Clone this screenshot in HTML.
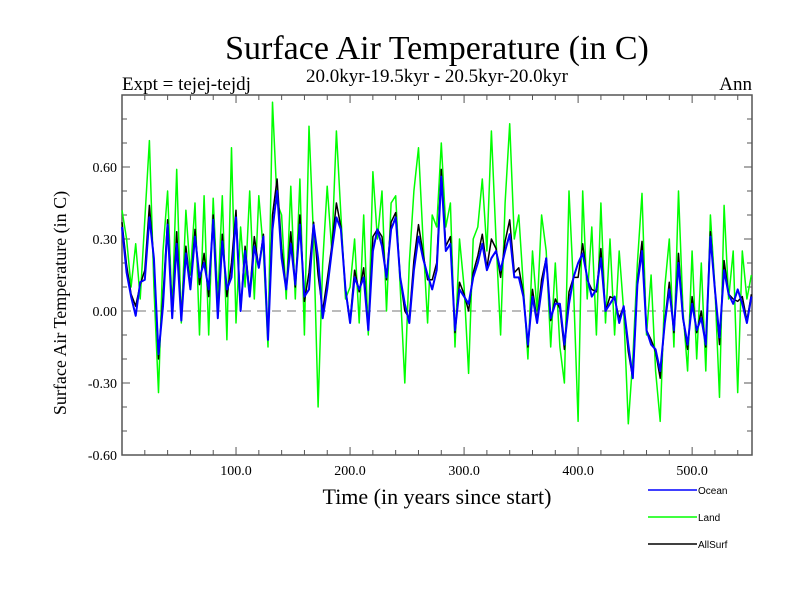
<!DOCTYPE html>
<html><head><meta charset="utf-8"><style>
body{margin:0;background:#fff;width:800px;height:600px;overflow:hidden}
svg{display:block}
.s{font-family:"Liberation Serif",serif;fill:#000}
.a{font-family:"Liberation Sans",sans-serif;fill:#000}
</style></head><body>
<svg id="c" width="800" height="600">
<text class="s" x="437" y="59" font-size="34" text-anchor="middle">Surface Air Temperature (in C)</text>
<text class="s" x="437" y="82" font-size="19" text-anchor="middle">20.0kyr-19.5kyr - 20.5kyr-20.0kyr</text>
<text class="s" x="122" y="90" font-size="19">Expt = tejej-tejdj</text>
<text class="s" x="752" y="90" font-size="19" text-anchor="end">Ann</text>
<text class="s" x="437" y="504" font-size="22" text-anchor="middle">Time (in years since start)</text>
<text class="s" x="0" y="0" font-size="18" text-anchor="middle" transform="translate(66,303) rotate(-90)">Surface Air Temperature (in C)</text>
<g id="plot"></g>
<g>
<line x1="648" y1="490" x2="697" y2="490" stroke="#0000ff" stroke-width="1.5"/>
<text class="a" x="698" y="494" font-size="10">Ocean</text>
<line x1="648" y1="517" x2="697" y2="517" stroke="#00ff00" stroke-width="1.5"/>
<text class="a" x="698" y="521" font-size="10">Land</text>
<line x1="648" y1="544" x2="697" y2="544" stroke="#000" stroke-width="1.5"/>
<text class="a" x="698" y="548" font-size="10">AllSurf</text>
</g>
</svg>
<script>
const yearStart = 0, yearStep = 4;
const ocean = [0.35,0.16,0.06,-0.02,0.12,0.13,0.39,0.22,-0.18,0.02,0.36,-0.03,0.28,-0.04,0.24,0.09,0.31,0.14,0.20,0.09,0.38,-0.03,0.29,0.09,0.14,0.39,0.00,0.25,0.06,0.27,0.18,0.31,-0.12,0.34,0.50,0.22,0.09,0.28,0.11,0.36,0.06,0.09,0.36,0.22,-0.03,0.09,0.25,0.39,0.34,0.09,-0.05,0.14,0.09,0.14,-0.08,0.25,0.34,0.27,0.14,0.34,0.39,0.14,0.03,-0.05,0.17,0.31,0.22,0.15,0.09,0.17,0.56,0.25,0.28,-0.08,0.09,0.06,0.03,0.14,0.20,0.28,0.17,0.22,0.25,0.17,0.25,0.32,0.14,0.14,0.06,-0.14,0.06,-0.05,0.09,0.22,-0.03,0.03,0.03,-0.14,0.03,0.14,0.20,0.24,0.14,0.06,0.09,0.22,0.00,0.03,0.06,-0.05,0.02,-0.14,-0.28,0.11,0.25,-0.08,-0.14,-0.16,-0.25,-0.05,0.09,-0.08,0.20,-0.03,-0.14,0.03,-0.08,-0.03,-0.14,0.31,0.09,-0.11,0.17,0.07,0.03,0.09,0.03,-0.05,0.06];
const land = [0.42,0.30,0.10,0.28,0.05,0.38,0.71,0.10,-0.34,0.25,0.50,0.00,0.59,-0.05,0.42,0.15,0.45,-0.10,0.48,-0.10,0.47,0.05,0.48,-0.12,0.68,-0.05,0.35,0.10,0.50,0.05,0.48,0.25,-0.15,0.87,0.45,0.40,0.05,0.52,0.05,0.55,-0.10,0.77,0.30,-0.40,0.20,0.52,0.25,0.75,0.40,0.05,0.10,0.30,-0.05,0.40,-0.10,0.58,0.30,0.50,0.00,0.45,0.48,0.10,-0.30,0.20,0.50,0.68,0.30,-0.05,0.40,0.35,0.70,0.35,0.45,-0.15,0.30,0.10,-0.26,0.30,0.35,0.55,0.25,0.75,0.30,-0.10,0.45,0.78,0.30,0.40,0.10,-0.20,0.25,0.00,0.40,0.25,-0.15,0.20,-0.15,-0.30,0.50,0.10,-0.46,0.50,0.05,0.35,-0.10,0.45,-0.05,0.30,-0.10,0.25,0.00,-0.47,-0.20,0.20,0.49,-0.10,0.15,-0.25,-0.46,0.10,0.30,-0.15,0.50,0.00,-0.25,0.25,-0.20,0.20,-0.25,0.40,0.10,-0.36,0.44,0.05,0.25,-0.34,0.25,0.05,0.15];
const allSurf = [0.37,0.19,0.07,0.02,0.11,0.17,0.44,0.21,-0.20,0.06,0.38,-0.01,0.33,-0.03,0.27,0.10,0.34,0.11,0.24,0.06,0.40,-0.01,0.32,0.06,0.20,0.42,0.00,0.27,0.07,0.31,0.18,0.32,-0.12,0.40,0.55,0.26,0.09,0.33,0.10,0.40,0.04,0.16,0.37,0.15,0.00,0.13,0.27,0.45,0.35,0.09,-0.04,0.17,0.08,0.18,-0.08,0.31,0.34,0.31,0.13,0.37,0.41,0.14,0.00,-0.03,0.21,0.36,0.24,0.13,0.13,0.20,0.59,0.27,0.31,-0.09,0.12,0.07,0.00,0.16,0.23,0.32,0.18,0.30,0.26,0.14,0.29,0.38,0.16,0.18,0.07,-0.15,0.09,-0.04,0.13,0.22,-0.04,0.05,0.01,-0.16,0.08,0.14,0.14,0.28,0.13,0.09,0.08,0.26,0.00,0.06,0.05,-0.03,0.02,-0.17,-0.28,0.12,0.29,-0.08,-0.12,-0.17,-0.28,-0.04,0.12,-0.09,0.24,-0.03,-0.16,0.06,-0.09,0.00,-0.15,0.33,0.09,-0.14,0.21,0.07,0.05,0.04,0.06,-0.04,0.07];
const yTickValues = [-0.6,-0.3,0.0,0.3,0.6];
const yTickLabels = ["-0.60","-0.30","0.00","0.30","0.60"];
const xTickValues = [100,200,300,400,500];
const xTickLabels = ["100.0","200.0","300.0","400.0","500.0"];

const L=122,R=752,T=95,B=455, X0=0,X1=552.5, Y0=-0.6,Y1=0.9;
const xs=v=>L+(v-X0)/(X1-X0)*(R-L);
const ys=v=>B-(v-Y0)/(Y1-Y0)*(B-T);
const NS="http://www.w3.org/2000/svg";
const plot=document.getElementById('plot');
function mk(t,a){const e=document.createElementNS(NS,t);for(const k in a)e.setAttribute(k,a[k]);return e;}

const frame=mk('rect',{x:L,y:T,width:R-L,height:B-T,fill:'none',stroke:'#555','stroke-width':1.5});


plot.appendChild(frame);

for(let i=-6;i<=9;i++){const v=i/10,y=ys(v);const big=(i%3===0);const len=big?8:5;
 const t1=mk('line',{x1:L,y1:y,x2:L+len,y2:y,stroke:'#555','stroke-width':1});
 
 
 plot.appendChild(t1);
 const t2=mk('line',{x1:R,y1:y,x2:R-len,y2:y,stroke:'#555','stroke-width':1});
 
 
 plot.appendChild(t2);}
for(let yr=20;yr<X1;yr+=20){const x=xs(yr);const big=(yr%100===0);const len=big?8:5;
 const t1=mk('line',{x1:x,y1:B,x2:x,y2:B-len,stroke:'#555','stroke-width':1});
 
 
 plot.appendChild(t1);
 const t2=mk('line',{x1:x,y1:T,x2:x,y2:T+len,stroke:'#555','stroke-width':1});
 
 
 plot.appendChild(t2);}
yTickValues.forEach((v,i)=>{const t=mk('text',{x:L-5,y:ys(v)+5,'font-size':14,'text-anchor':'end',class:'s'});t.textContent=yTickLabels[i];
 
 
 plot.appendChild(t);});
xTickValues.forEach((v,i)=>{const t=mk('text',{x:xs(v),y:B+20,'font-size':14,'text-anchor':'middle',class:'s'});t.textContent=xTickLabels[i];
 
 
 plot.appendChild(t);});

const zero=mk('line',{x1:L,y1:ys(0),x2:R,y2:ys(0),stroke:'#777','stroke-width':1,'stroke-dasharray':'9,6'});


plot.appendChild(zero);

function series(arr,color,w){return mk('polyline',{points:arr.map((v,i)=>xs(yearStart+i*yearStep).toFixed(1)+','+ys(v).toFixed(1)).join(' '),fill:'none',stroke:color,'stroke-width':w,'stroke-linejoin':'round'});}
const gL=series(land,'#00ff00',1.5);


plot.appendChild(gL);
const gA=series(allSurf,'#000000',1.5);


plot.appendChild(gA);
const gO=series(ocean,'#0000ff',2);


plot.appendChild(gO);
</script>
</body></html>
